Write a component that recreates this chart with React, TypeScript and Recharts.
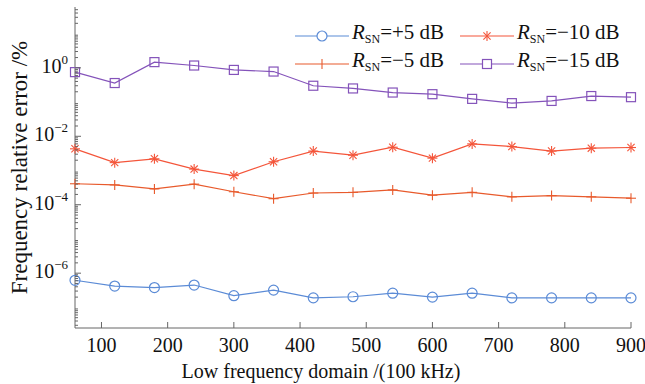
import { LineChart, Line, XAxis, YAxis } from "recharts";

// x: low frequency domain (x100 kHz)
const freqs = [60, 120, 180, 240, 300, 360, 420, 480, 540, 600, 660, 720, 780, 840, 900];

// relative error (%) per SNR
const snrPlus5 = [6.2e-7, 4.2e-7, 3.8e-7, 4.5e-7, 2.2e-7, 3.2e-7, 1.9e-7, 2.05e-7, 2.6e-7, 2.0e-7, 2.6e-7, 1.9e-7, 1.9e-7, 1.9e-7, 1.9e-7];
const snrMinus10 = [4.3e-3, 1.7e-3, 2.2e-3, 1.1e-3, 7.1e-4, 1.8e-3, 3.7e-3, 2.8e-3, 4.8e-3, 2.3e-3, 6.0e-3, 5.0e-3, 3.7e-3, 4.5e-3, 4.7e-3];
const snrMinus5 = [4.1e-4, 3.8e-4, 2.9e-4, 4.0e-4, 2.4e-4, 1.5e-4, 2.2e-4, 2.3e-4, 2.7e-4, 1.9e-4, 2.3e-4, 1.7e-4, 1.85e-4, 1.7e-4, 1.55e-4];
const snrMinus15 = [0.75, 0.36, 1.47, 1.17, 0.87, 0.78, 0.3, 0.25, 0.19, 0.17, 0.124, 0.093, 0.108, 0.15, 0.139];

const xTicks = [100, 200, 300, 400, 500, 600, 700, 800, 900];
const yMajor = [1e-6, 1e-4, 1e-2, 1];
const yExp = [-6, -4, -2, 0];

const FONT = "Liberation Serif";
const INK = "#111";
const BLUE = "#5b8bd6";
const STAR = "#f4553a";
const PLUS = "#e85a2c";
const PURPLE = "#8453ba";

const data = freqs.map((f, i) => ({
  f,
  p5: snrPlus5[i],
  m10: snrMinus10[i],
  m5: snrMinus5[i],
  m15: snrMinus15[i],
}));

// minor ticks 2..9 x 10^k on the log axis
const yMinor: number[] = [];
for (let k = -8; k <= 1; k++) {
  for (let m = 2; m <= 9; m++) {
    const v = m * Math.pow(10, k);
    if (v > 2.5e-8 && v < 60) yMinor.push(Number(v.toPrecision(3)));
  }
}
const yAllTicks = [...yMajor, ...yMinor].sort((a, b) => a - b);

const YTick = (props: any) => {
  const { x, y, payload } = props;
  const idx = yMajor.indexOf(payload.value);
  const major = idx >= 0;
  return (
    <g>
      <line x1={x} x2={x + (major ? 6 : 3)} y1={y} y2={y} stroke="#666" strokeWidth={1} />
      {major && (
        <text x={x - 7} y={y + 5} textAnchor="end" fontFamily={FONT} fontSize={20} fill={INK}>
          10
          <tspan dy={-9} fontSize={13}>
            {yExp[idx] < 0 ? "\u2212" + Math.abs(yExp[idx]) : yExp[idx]}
          </tspan>
        </text>
      )}
    </g>
  );
};

const XTick = (props: any) => {
  const { x, y, payload } = props;
  return (
    <g>
      <line x1={x} x2={x} y1={y} y2={y - 6} stroke="#666" strokeWidth={1} />
      <text x={x} y={y + 24} textAnchor="middle" fontFamily={FONT} fontSize={20} fill={INK}>
        {payload.value}
      </text>
    </g>
  );
};

const Circle = (p: any) => (
  <circle key={p.index} cx={p.cx} cy={p.cy} r={5} fill="none" stroke={BLUE} strokeWidth={1.2} />
);
const Square = (p: any) => (
  <rect key={p.index} x={p.cx - 4.5} y={p.cy - 4.5} width={9} height={9} fill="none" stroke={PURPLE} strokeWidth={1.2} />
);
const Plus = (p: any) => (
  <g key={p.index} stroke={PLUS} strokeWidth={1.1}>
    <line x1={p.cx} x2={p.cx} y1={p.cy - 5} y2={p.cy + 5} />
    <line x1={p.cx - 5} x2={p.cx + 5} y1={p.cy} y2={p.cy} />
  </g>
);
const Star = (p: any) => (
  <g key={p.index} stroke={STAR} strokeWidth={1.1}>
    <line x1={p.cx} x2={p.cx} y1={p.cy - 5} y2={p.cy + 5} />
    <line x1={p.cx - 5} x2={p.cx + 5} y1={p.cy} y2={p.cy} />
    <line x1={p.cx - 3.6} x2={p.cx + 3.6} y1={p.cy - 3.6} y2={p.cy + 3.6} />
    <line x1={p.cx - 3.6} x2={p.cx + 3.6} y1={p.cy + 3.6} y2={p.cy - 3.6} />
  </g>
);

const legendItems = [
  { sign: "=+5 dB", color: BLUE, mark: "circle", left: 295, top: 21 },
  { sign: "=\u221210 dB", color: STAR, mark: "star", left: 460, top: 21 },
  { sign: "=\u22125 dB", color: PLUS, mark: "plus", left: 295, top: 49 },
  { sign: "=\u221215 dB", color: PURPLE, mark: "square", left: 460, top: 49 },
];

const LegendMark = ({ mark, color }: { mark: string; color: string }) => (
  <svg width={54} height={20} style={{ display: "block" }}>
    <line x1={0} x2={54} y1={10} y2={10} stroke={color} strokeWidth={1.2} />
    {mark === "circle" && <circle cx={27} cy={10} r={5} fill="white" stroke={color} strokeWidth={1.2} />}
    {mark === "square" && <rect x={22.5} y={5.5} width={9} height={9} fill="white" stroke={color} strokeWidth={1.2} />}
    {mark === "plus" && <line x1={27} x2={27} y1={5} y2={15} stroke={color} strokeWidth={1.1} />}
    {mark === "star" && (
      <g stroke={color} strokeWidth={1.1}>
        <line x1={27} x2={27} y1={5} y2={15} />
        <line x1={23.4} x2={30.6} y1={6.4} y2={13.6} />
        <line x1={23.4} x2={30.6} y1={13.6} y2={6.4} />
      </g>
    )}
  </svg>
);

export default function App() {
  return (
    <div style={{ position: "absolute", left: 0, top: 0, width: 645, height: 384, background: "#fff" }}>
      <LineChart
        width={645}
        height={384}
        data={data}
        margin={{ top: 7, right: 14, bottom: 26, left: 20 }}
      >
        <XAxis
          dataKey="f"
          type="number"
          domain={[60, 900]}
          ticks={xTicks}
          interval={0}
          height={30}
          tickSize={0}
          tickMargin={0}
          tickLine={false}
          tick={XTick}
          stroke="#666"
          label={{
            value: "Low frequency domain /(100 kHz)",
            position: "insideBottom",
            offset: -20,
            dx: -32,
            style: { fontFamily: FONT, fontSize: 20, fill: INK },
          }}
        />
        <XAxis xAxisId="top" orientation="top" dataKey="f" type="number" domain={[60, 900]} height={0} tick={false} tickLine={false} stroke="#666" />
        <YAxis
          type="number"
          scale="log"
          domain={[2.5e-8, 60]}
          allowDataOverflow
          ticks={yAllTicks}
          interval={0}
          width={55}
          tickSize={0}
          tickMargin={0}
          tickLine={false}
          tick={YTick}
          stroke="#666"
          label={{
            value: "Frequency relative error /%",
            angle: -90,
            position: "insideLeft",
            dx: -6,
            dy: 0,
            style: { fontFamily: FONT, fontSize: 23, fill: INK, textAnchor: "middle" },
          }}
        />
        <YAxis yAxisId="right" orientation="right" width={0} tick={false} tickLine={false} stroke="#666" />
        <Line dataKey="p5" stroke={BLUE} strokeWidth={1.2} dot={Circle} isAnimationActive={false} />
        <Line dataKey="m10" stroke={STAR} strokeWidth={1.2} dot={Star} isAnimationActive={false} />
        <Line dataKey="m5" stroke={PLUS} strokeWidth={1.2} dot={Plus} isAnimationActive={false} />
        <Line dataKey="m15" stroke={PURPLE} strokeWidth={1.2} dot={Square} isAnimationActive={false} />
      </LineChart>
      {legendItems.map((it) => (
        <div
          key={it.sign}
          style={{
            position: "absolute",
            left: it.left,
            top: it.top,
            display: "flex",
            alignItems: "center",
            fontFamily: FONT,
            fontSize: 21,
            lineHeight: "22px",
            color: INK,
            whiteSpace: "nowrap",
          }}
        >
          <LegendMark mark={it.mark} color={it.color} />
          <span style={{ marginLeft: 3 }}>
            <i>R</i>
            <sub style={{ fontSize: 12, verticalAlign: "-4px" }}>SN</sub>
            {it.sign}
          </span>
        </div>
      ))}
    </div>
  );
}
